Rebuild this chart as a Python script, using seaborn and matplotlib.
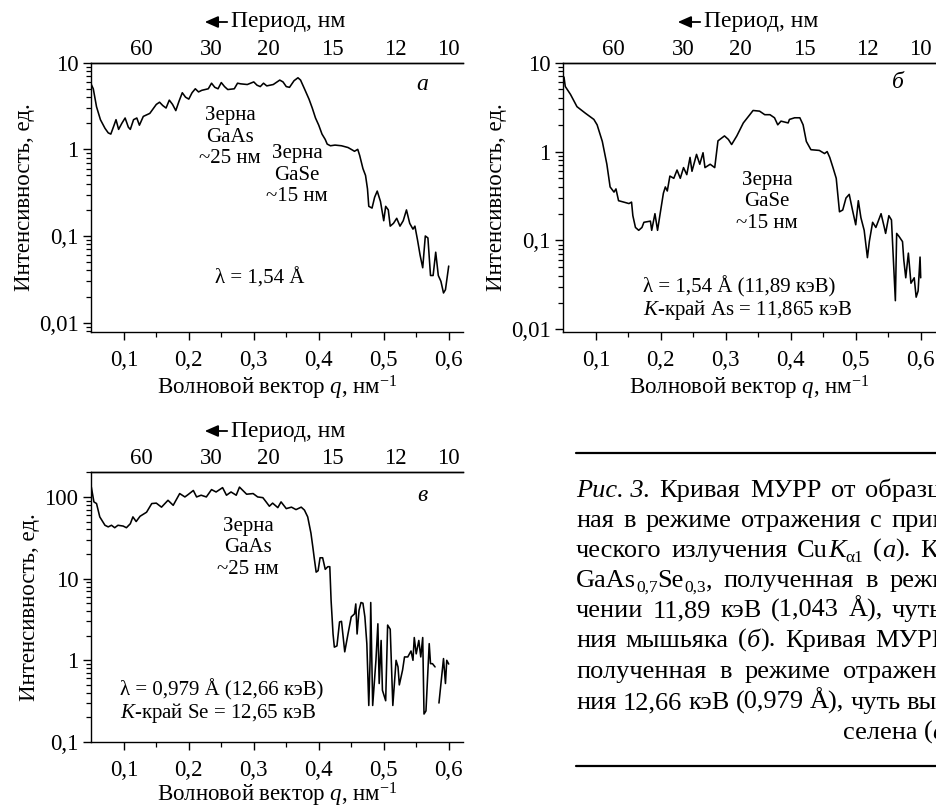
import numpy as np
import pandas as pd
import matplotlib
matplotlib.use("Agg")
import matplotlib.pyplot as plt
import seaborn as sns
from matplotlib.ticker import FixedLocator, FixedFormatter, LogLocator, NullFormatter, NullLocator
from matplotlib.lines import Line2D
from matplotlib.patches import FancyArrowPatch

# ---------------- data ----------------
q_a = [0.049, 0.053, 0.058, 0.064, 0.071, 0.076, 0.080, 0.085, 0.088, 0.092,
       0.097, 0.102, 0.107, 0.110, 0.115, 0.120, 0.124, 0.130, 0.140, 0.150,
       0.155, 0.160, 0.165, 0.170, 0.175, 0.180, 0.185, 0.190, 0.195, 0.200,
       0.205, 0.210, 0.215, 0.220, 0.230, 0.235, 0.240, 0.245, 0.250, 0.255,
       0.260, 0.270, 0.275, 0.280, 0.290, 0.300, 0.305, 0.310, 0.315, 0.320,
       0.330, 0.340, 0.345, 0.350, 0.355, 0.362, 0.368, 0.372, 0.378, 0.385,
       0.390, 0.395, 0.400, 0.405, 0.410, 0.413, 0.418, 0.425, 0.435, 0.445,
       0.450, 0.455, 0.460, 0.463, 0.468, 0.472, 0.475, 0.477, 0.482, 0.486,
       0.490, 0.495, 0.500, 0.503, 0.507, 0.510, 0.515, 0.520, 0.525, 0.530,
       0.535, 0.540, 0.545, 0.548, 0.552, 0.556, 0.560, 0.564, 0.568, 0.572,
       0.576, 0.580, 0.584, 0.588, 0.592, 0.595, 0.600]
I_a = [5.8, 5.0, 3.1, 2.2, 1.75, 1.55, 1.5, 1.9, 2.2, 1.7,
       2.0, 2.3, 1.8, 1.7, 2.2, 2.3, 1.9, 2.4, 2.6, 3.3,
       3.5, 3.2, 3.0, 3.7, 3.3, 2.8, 3.6, 4.5, 4.0, 3.8,
       4.5, 5.0, 4.6, 4.8, 5.0, 5.8, 5.2, 5.0, 5.9, 5.3,
       4.9, 5.0, 5.8, 5.7, 5.6, 6.0, 5.5, 5.3, 5.8, 5.4,
       5.6, 6.3, 6.0, 5.3, 5.2, 6.2, 6.7, 6.3, 5.0, 3.8,
       3.0, 2.3, 1.9, 1.5, 1.3, 1.15, 1.1, 1.12, 1.1, 1.05,
       1.0, 0.95, 1.0, 0.85, 0.6, 0.5, 0.35, 0.22, 0.21, 0.28,
       0.33, 0.25, 0.15, 0.22, 0.2, 0.13, 0.14, 0.16, 0.13, 0.15,
       0.2, 0.14, 0.12, 0.13, 0.09, 0.06, 0.043, 0.1, 0.095, 0.035,
       0.035, 0.065, 0.035, 0.03, 0.022, 0.024, 0.045]

q_b = [0.051, 0.053, 0.061, 0.071, 0.084, 0.097, 0.102, 0.110, 0.117, 0.122,
       0.128, 0.131, 0.135, 0.143, 0.151, 0.155, 0.157, 0.161, 0.166, 0.171,
       0.174, 0.184, 0.186, 0.191, 0.195, 0.199, 0.204, 0.207, 0.210, 0.214,
       0.220, 0.225, 0.230, 0.235, 0.240, 0.245, 0.248, 0.255, 0.260, 0.265,
       0.268, 0.276, 0.283, 0.288, 0.298, 0.304, 0.309, 0.317, 0.327, 0.337,
       0.342, 0.352, 0.360, 0.368, 0.375, 0.380, 0.385, 0.396, 0.398, 0.406,
       0.414, 0.419, 0.424, 0.431, 0.444, 0.452, 0.456, 0.460, 0.465, 0.470,
       0.475, 0.480, 0.485, 0.490, 0.495, 0.500, 0.504, 0.508, 0.513, 0.518,
       0.521, 0.526, 0.531, 0.539, 0.544, 0.546, 0.551, 0.555, 0.561, 0.563,
       0.567, 0.572, 0.574, 0.577, 0.581, 0.585, 0.590, 0.593, 0.596, 0.599, 0.600]
I_b = [6.9, 5.4, 4.4, 3.2, 2.7, 2.3, 2.0, 1.3, 0.72, 0.40,
       0.35, 0.38, 0.28, 0.27, 0.26, 0.27, 0.19, 0.14, 0.13, 0.14,
       0.16, 0.165, 0.13, 0.2, 0.13, 0.2, 0.34, 0.4, 0.36, 0.53,
       0.5, 0.62, 0.5, 0.66, 0.55, 0.86, 0.6, 0.93, 0.72, 0.97,
       0.66, 0.72, 0.66, 1.32, 1.5, 1.37, 1.2, 1.5, 2.1, 2.6,
       2.9, 2.85, 2.6, 2.6, 2.4, 2.0, 2.2, 2.1, 2.3, 2.4,
       2.4, 2.0, 1.3, 1.05, 1.03, 0.95, 1.0, 0.86, 0.66, 0.5,
       0.21, 0.22, 0.3, 0.33, 0.22, 0.15, 0.28, 0.18, 0.13, 0.064,
       0.098, 0.16, 0.14, 0.2, 0.14, 0.12, 0.19, 0.17, 0.021, 0.12,
       0.11, 0.097, 0.06, 0.038, 0.072, 0.033, 0.038, 0.023, 0.027, 0.065, 0.038]

q_c = [0.050, 0.054, 0.058, 0.063, 0.071, 0.076, 0.081, 0.086, 0.091, 0.099,
       0.104, 0.110, 0.114, 0.119, 0.125, 0.135, 0.143, 0.150, 0.158, 0.168,
       0.176, 0.186, 0.194, 0.199, 0.207, 0.212, 0.219, 0.227, 0.235, 0.242,
       0.252, 0.258, 0.265, 0.273, 0.278, 0.289, 0.299, 0.306, 0.314, 0.319,
       0.324, 0.329, 0.337, 0.342, 0.350, 0.358, 0.365, 0.373, 0.378, 0.383,
       0.388, 0.391, 0.393, 0.396, 0.399, 0.402, 0.406, 0.410, 0.414, 0.417,
       0.419, 0.422, 0.424, 0.428, 0.432, 0.435, 0.440, 0.445, 0.450, 0.455,
       0.457, 0.459, 0.462, 0.465, 0.468, 0.471, 0.474, 0.477, 0.479, 0.480,
       0.483, 0.488, 0.491, 0.493, 0.496, 0.498, 0.503, 0.506, 0.510, 0.514,
       0.519, 0.522, 0.524, 0.529, 0.532, 0.537, 0.542, 0.545, 0.547, 0.550,
       0.554, 0.557, 0.560, 0.562, 0.565, 0.570, 0.572, 0.575, 0.579, 0.582,
       0.585, 0.592, 0.595, 0.597, 0.600]
I_c = [132, 87, 83, 57, 45, 43, 45, 42, 45, 44,
       42, 47, 57, 50, 58, 65, 83, 84, 75, 91,
       79, 110, 100, 107, 120, 100, 105, 100, 123, 115,
       130, 105, 115, 105, 132, 108, 110, 100, 98, 87,
       77, 84, 74, 87, 72, 75, 70, 75, 69, 57,
       36, 24, 18, 12, 12.5, 18, 18, 13, 14, 14,
       5.4, 2.1, 1.45, 1.5, 2.95, 3.0, 1.27, 2.1, 3.4, 3.7,
       4.9, 2.1, 4.1, 5.1, 5.0, 3.4, 1.6, 0.28, 1.0, 5.1,
       0.28, 1.0, 2.8, 0.52, 1.75, 0.43, 0.32, 2.7, 2.4, 0.28,
       1.0, 0.83, 0.5, 0.76, 1.1, 1.1, 1.3, 1.0, 1.9, 1.2,
       1.75, 1.1, 1.9, 0.22, 0.24, 1.6, 0.91, 0.91, 0.83, np.nan,
       0.3, 1.05, 0.52, 1.0, 0.9]

x_ticks = [0.1, 0.2, 0.3, 0.4, 0.5, 0.6]
x_tick_labels = ["0,1", "0,2", "0,3", "0,4", "0,5", "0,6"]
y_ticks_ab = [0.01, 0.1, 1, 10]
y_labels_ab = ["0,01", "0,1", "1", "10"]
y_ticks_c = [0.1, 1, 10, 100]
y_labels_c = ["0,1", "1", "10", "100"]
period_q = [0.127, 0.234, 0.322, 0.421, 0.518, 0.600]
period_labels = ["60", "30", "20", "15", "12", "10"]

# ---------------- style ----------------
sns.set_style("ticks")
plt.rcParams["font.family"] = ["Liberation Serif", "DejaVu Serif"]
plt.rcParams.update({
    "mathtext.fontset": "custom",
    "mathtext.rm": "Liberation Serif",
    "mathtext.it": "Liberation Serif:italic",
    "text.color": "black", "axes.labelcolor": "black",
    "xtick.color": "black", "ytick.color": "black",
    "axes.edgecolor": "black", "axes.linewidth": 1.0,
})

W, H = 937, 810
fig = plt.figure(figsize=(W / 100, H / 100), dpi=100)
fig.patch.set_facecolor("white")


def fx(x):
    return x / W


def fy(y):
    return 1 - y / H


def make_axes(left, top, right, bottom):
    return fig.add_axes([fx(left), fy(bottom), (right - left) / W, (bottom - top) / H])


TICK = 16.5
LAB = 16.5
TITLE = 17
ANN = 15


def setup(ax, q, I, ylim, yt, yl, xpad=2):
    df = pd.DataFrame({"q": q, "I": I})
    df["seg"] = df["I"].isna().cumsum()
    df = df.dropna()
    sns.lineplot(data=df, x="q", y="I", units="seg", estimator=None, sort=False,
                 color="black", lw=1.15, ax=ax, legend=False)
    ax.set_yscale("log")
    ax.set_xlim(0.0495, 0.622)
    ax.set_ylim(*ylim)
    ax.xaxis.set_major_locator(FixedLocator(x_ticks))
    ax.xaxis.set_major_formatter(FixedFormatter(x_tick_labels))
    ax.xaxis.set_minor_locator(FixedLocator([0.15, 0.25, 0.35, 0.45, 0.55]))
    ax.yaxis.set_major_locator(FixedLocator(yt))
    ax.yaxis.set_major_formatter(FixedFormatter(yl))
    ax.yaxis.set_minor_locator(LogLocator(base=10, subs=np.arange(2, 10)))
    ax.yaxis.set_minor_formatter(NullFormatter())
    ax.tick_params(which="major", direction="out", length=6, width=1.0, labelsize=TICK)
    ax.tick_params(which="minor", direction="out", length=3.5, width=0.9)
    ax.tick_params(axis="x", which="major", pad=7)
    ax.tick_params(axis="y", which="major", pad=3)
    ax.tick_params(top=False, right=False, which="both")
    ax.spines["right"].set_visible(False)
    ax.set_xlabel("Волновой вектор $q$, нм$^{-1}$", fontsize=LAB, labelpad=xpad)
    ax.set_ylabel("Интенсивность, ед.", fontsize=LAB, labelpad=3)
    sec = ax.secondary_xaxis("top")
    sec.set_xticks(period_q)
    sec.set_xticklabels(period_labels)
    sec.xaxis.set_minor_locator(NullLocator())
    sec.tick_params(length=0, pad=2, labelsize=TICK)
    return ax


ax_a = make_axes(91, 62.7, 463, 332)
setup(ax_a, q_a, I_a, (0.0078, 10), y_ticks_ab, y_labels_ab)
ax_b = make_axes(563, 62.7, 935, 331.7)
setup(ax_b, q_b, I_b, (0.0094, 10), y_ticks_ab, y_labels_ab)
ax_c = make_axes(91, 472, 463, 742)
setup(ax_c, q_c, I_c, (0.1, 202), y_ticks_c, y_labels_c, xpad=0)


def ftext(x, y, s, **kw):
    return fig.text(fx(x), fy(y), s, **kw)


def period_title(x0, y):
    fig.add_artist(FancyArrowPatch(
        (fx(x0 + 28), fy(y)), (fx(x0), fy(y)), transform=fig.transFigure,
        arrowstyle="-|>,head_length=5,head_width=2.2", mutation_scale=1.6,
        color="black", lw=1.3))
    ftext(x0 + 29, y, "Период, нм", fontsize=TITLE, ha="left", va="center")


period_title(202, 22)
period_title(675, 22)
period_title(202, 431)

# panel a
ftext(422, 85, "а", fontsize=17, fontstyle="italic", ha="center", va="center")
ftext(230, 137, "Зерна\nGaAs\n~25 нм", fontsize=ANN, ha="center", va="center", linespacing=1.15)
ftext(297, 175, "Зерна\nGaSe\n~15 нм", fontsize=ANN, ha="center", va="center", linespacing=1.15)
ftext(260, 278, "λ = 1,54 Å", fontsize=ANN, ha="center", va="center")
# panel b
ftext(898, 83, "б", fontsize=17, fontstyle="italic", ha="center", va="center")
ftext(767, 202, "Зерна\nGaSe\n~15 нм", fontsize=ANN, ha="center", va="center", linespacing=1.15)
ftext(643, 287, "λ = 1,54 Å (11,89 кэВ)", fontsize=ANN, ha="left", va="center")
ftext(643, 310, "$K$-край As = 11,865 кэВ", fontsize=ANN, ha="left", va="center")
# panel c
ftext(422, 495, "в", fontsize=17, fontstyle="italic", ha="center", va="center")
ftext(248, 548, "Зерна\nGaAs\n~25 нм", fontsize=ANN, ha="center", va="center", linespacing=1.15)
ftext(120, 690, "λ = 0,979 Å (12,66 кэВ)", fontsize=ANN, ha="left", va="center")
ftext(120, 713, "$K$-край Se = 12,65 кэВ", fontsize=ANN, ha="left", va="center")

# ---------------- caption (justified lines, cut by the page edge) ----------------
CAP = 19
renderer = fig.canvas.get_renderer()


def word_artists(runs):
    arts = []
    for txt, st in runs:
        size, dy, style = CAP, 0, "normal"
        if st == "i":
            style = "italic"
        elif st == "sub":
            size, dy = CAP * 0.66, 5
        t = fig.text(0, 0, txt, fontsize=size, fontstyle=style, ha="left", va="baseline")
        arts.append((t, dy))
    return arts


def place_word(arts, x, base):
    for t, dy in arts:
        t.set_position((fx(x), fy(base + dy)))
        x = t.get_window_extent(renderer).x1
    return x


def word_width(arts):
    return sum(t.get_window_extent(renderer).width for t, _ in arts)


def text_width(s):
    t = fig.text(0, 0, s, fontsize=CAP)
    w = t.get_window_extent(renderer).width
    t.remove()
    return w


# (baseline, words, visible prefix of last word, x where that prefix ends)
caption = [
    (497, [[("Рис. 3.", "i")], [("Кривая", "n")], [("МУРР", "n")], [("от", "n")],
           [("образца", "n")]], "образц", 941),
    (527, [[("ная", "n")], [("в", "n")], [("режиме", "n")], [("отражения", "n")],
           [("с", "n")], [("применением", "n")]], "при", 933),
    (557, [[("ческого", "n")], [("излучения", "n")],
           [("Cu", "n"), ("K", "i"), ("α1", "sub")],
           [("(", "n"), ("а", "i"), (").", "n")], [("Кривая", "n")]], "К", 938),
    (587, [[("GaAs", "n"), ("0,7", "sub"), ("Se", "n"), ("0,3", "sub"), (",", "n")],
           [("полученная", "n")], [("в", "n")], [("режиме", "n")]], "реж", 933),
    (617, [[("чении", "n")], [("11,89", "n")], [("кэВ", "n")],
           [("(1,043", "n")], [("Å),", "n")], [("чуть", "n")]], "чуть", 942),
    (647, [[("ния", "n")], [("мышьяка", "n")], [("(", "n"), ("б", "i"), (").", "n")],
           [("Кривая", "n")], [("МУРР", "n")]], "МУР", 932),
    (678, [[("полученная", "n")], [("в", "n")], [("режиме", "n")],
           [("отражения", "n")]], "отражен", 937),
    (709, [[("ния", "n")], [("12,66", "n")], [("кэВ", "n")], [("(0,979", "n")],
           [("Å),", "n")], [("чуть", "n")], [("выше", "n")]], "вы", 937),
]
for base, words, prefix, xend in caption:
    arts = [word_artists(w) for w in words]
    widths = [word_width(a) for a in arts]
    x_last = xend - text_width(prefix)
    gap = max((x_last - 576 - sum(widths[:-1])) / (len(words) - 1), 4.0)
    x = 576
    for a, w in zip(arts, widths):
        place_word(a, x, base)
        x += w + gap

w_sel = word_artists([("селена", "n")])
w_v = word_artists([("(", "n"), ("в", "i"), (")", "n")])
x_sel = 945 - text_width("селена (в")
xe = place_word(w_sel, x_sel, 739)
place_word(w_v, xe + text_width(" "), 739)

for yy in (453, 766):
    fig.add_artist(Line2D([fx(576), 1.0], [fy(yy), fy(yy)], transform=fig.transFigure,
                          color="black", lw=1.6))

fig.savefig("out.png", dpi=100, facecolor="white")
